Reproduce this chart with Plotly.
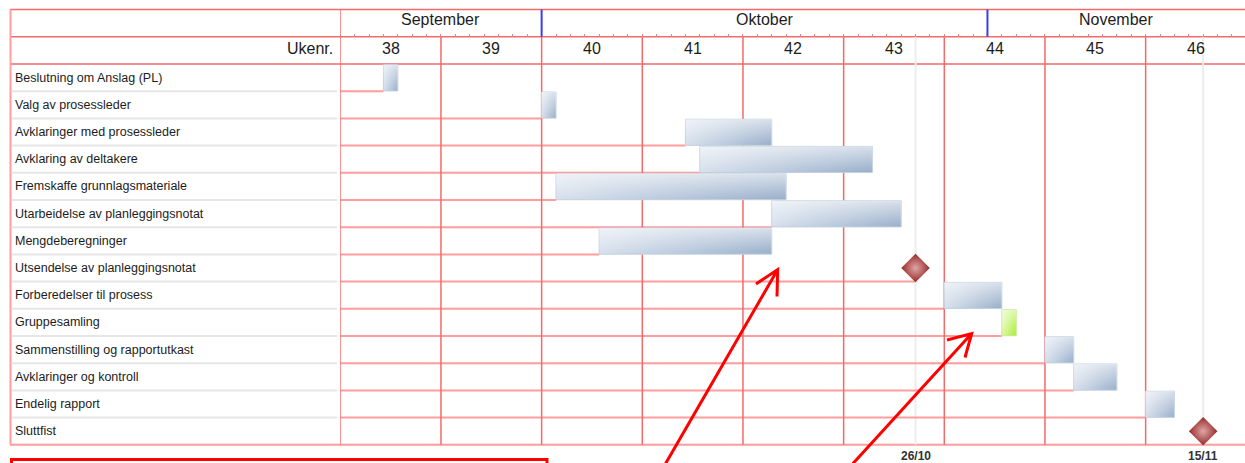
import plotly.graph_objects as go

W, H = 1245, 463

# ---- schedule data -------------------------------------------------------
tasks = [
    "Beslutning om Anslag (PL)",
    "Valg av prosessleder",
    "Avklaringer med prosessleder",
    "Avklaring av deltakere",
    "Fremskaffe grunnlagsmateriale",
    "Utarbeidelse av planleggingsnotat",
    "Mengdeberegninger",
    "Utsendelse av planleggingsnotat",
    "Forberedelser til prosess",
    "Gruppesamling",
    "Sammenstilling og rapportutkast",
    "Avklaringer og kontroll",
    "Endelig rapport",
    "Sluttfist",
]
# day offsets counted from the first day of week 38
start_day = [3, 14, 24, 25, 15, 30, 18, 40, 42, 46, 49, 51, 56, 60]
end_day = [4, 15, 30, 37, 31, 39, 30, 40, 46, 47, 51, 54, 58, 60]
task_type = ["task", "task", "task", "task", "task", "task", "task",
             "milestone", "task", "meeting", "task", "task", "task", "milestone"]

week_numbers = [38, 39, 40, 41, 42, 43, 44, 45, 46]
week_start_day = [0, 7, 14, 21, 28, 35, 42, 49, 56]

months = ["September", "Oktober", "November"]
month_start_day = [0, 14, 45]

milestone_labels = ["26/10", "15/11"]
milestone_label_day = [40, 60]

# ---- layout geometry -----------------------------------------------------
DAY0_PX = 340.3          # left edge of the time scale
PX_PER_DAY = 14.381
X_MAX = (W - DAY0_PX) / PX_PER_DAY
ROW_TOP_PX = 64.0        # first task row
ROW_H = 27.2
Y_BOTTOM = (H - ROW_TOP_PX) / ROW_H
Y_TOP = -ROW_TOP_PX / ROW_H
N = len(tasks)
month_end_day = month_start_day[1:] + [X_MAX]

RED = "#f26a6a"
RED_LIGHT = "#ff9d9d"
FONT = "Liberation Sans, Arial, sans-serif"


def pxx(x):
    return x / W


def pxy(y):
    return 1 - y / H


shapes = []


def hline(y, x0, x1, color, width, xref="x", layer="below"):
    shapes.append(dict(type="line", xref=xref, yref="y", x0=x0, x1=x1, y0=y, y1=y,
                       line=dict(color=color, width=width), layer=layer))


def vline(x, y0, y1, color, width, xref="x", layer="below"):
    shapes.append(dict(type="line", xref=xref, yref="y", x0=x, x1=x, y0=y0, y1=y1,
                       line=dict(color=color, width=width), layer=layer))


# milestone guide lines
for d in milestone_label_day:
    vline(d, -1, N, "#ededed", 2)

# faint separators in the label column
for i in range(1, N):
    hline(i, pxx(12), pxx(337), "#e6e6e6", 2, xref="paper")

# leader lines from the table edge to each task start
for i in range(N - 1):
    hline(i + 1, 0, start_day[i], RED_LIGHT, 2)

# week dividers
for d in week_start_day[1:]:
    vline(d, -1, N, RED, 1.5)

# header and frame lines
for y in (-2, -1, 0):
    hline(y, pxx(10), 1, RED, 1.5, xref="paper")
hline(N, pxx(10), 1, RED_LIGHT, 2, xref="paper")
vline(pxx(10.5), -2, N, RED_LIGHT, 2, xref="paper")
vline(0, -2, N, RED, 1.5)

# month boundaries
for d in month_start_day[1:]:
    vline(d, -2, -1, "#3c3cf0", 2, layer="above")

# callout box and arrows
shapes.append(dict(type="rect", xref="paper", yref="paper",
                   x0=pxx(11.5), x1=pxx(547), y0=pxy(459.5), y1=pxy(500),
                   line=dict(color="#ff0000", width=3)))
arrows = [
    ((659, 475), (777.7, 269.5), (756, 284), (777, 296.5)),
    ((842.5, 475), (971.7, 333.5), (947, 340), (965, 357.5)),
]
for tail, tip, a1, a2 in arrows:
    path = (f"M {pxx(tail[0])},{pxy(tail[1])} L {pxx(tip[0])},{pxy(tip[1])} "
            f"M {pxx(a1[0])},{pxy(a1[1])} L {pxx(tip[0])},{pxy(tip[1])} "
            f"L {pxx(a2[0])},{pxy(a2[1])}")
    shapes.append(dict(type="path", xref="paper", yref="paper", path=path,
                       line=dict(color="#ff0000", width=3)))

# ---- marks ---------------------------------------------------------------
fig = go.Figure()

for i, (s, e, kind) in enumerate(zip(start_day, end_day, task_type)):
    if kind == "milestone":
        fig.add_trace(go.Scatter(
            x=[s], y=[i + 0.5], mode="markers", hoverinfo="skip", showlegend=False,
            marker=dict(symbol="diamond", size=22, color="#972a2a",
                        gradient=dict(type="radial", color="#dfa6a6"),
                        line=dict(width=0)),
        ))
        continue
    if kind == "meeting":
        c0, c1, edge = "#dcf9a6", "#a8ec2a", "#c6e896"
    else:
        c0, c1, edge = "#d6e0ec", "#98aeca", "#c2cfdd"
    y0, y1 = i + 0.03, i + 0.99
    xs = [s, e, e, s, s]
    ys = [y0, y0, y1, y1, y0]
    fig.add_trace(go.Scatter(
        x=xs, y=ys, mode="lines", fill="toself", hoverinfo="skip", showlegend=False,
        line=dict(color=edge, width=1),
        fillgradient=dict(type="horizontal", colorscale=[[0, c0], [1, c1]]),
    ))
    fig.add_trace(go.Scatter(
        x=xs, y=ys, mode="lines", fill="toself", hoverinfo="skip", showlegend=False,
        line=dict(width=0),
        fillgradient=dict(type="vertical",
                          colorscale=[[0, "rgba(255,255,255,0)"],
                                      [1, "rgba(255,255,255,0.62)"]]),
    ))

# ---- text ----------------------------------------------------------------
annotations = []
for i, name in enumerate(tasks):
    annotations.append(dict(xref="paper", yref="y", x=pxx(13), y=i + 0.5,
                            text=name, showarrow=False, xanchor="left",
                            font=dict(size=12.5, color="#1c1c1c", family=FONT)))
for wk, d in zip(week_numbers, week_start_day):
    annotations.append(dict(xref="x", yref="y", x=d + 3.5, y=-0.58, text=str(wk),
                            showarrow=False, font=dict(size=16, color="#1c1c1c", family=FONT)))
for name, a, b in zip(months, month_start_day, month_end_day):
    annotations.append(dict(xref="x", yref="y", x=(a + b) / 2, y=-1.62, text=name,
                            showarrow=False, font=dict(size=16, color="#1c1c1c", family=FONT)))
annotations.append(dict(xref="paper", yref="y", x=pxx(335), y=-0.58, text="Ukenr.",
                        showarrow=False, xanchor="right",
                        font=dict(size=16, color="#1c1c1c", family=FONT)))
for lbl, d in zip(milestone_labels, milestone_label_day):
    annotations.append(dict(xref="x", yref="paper", x=d, y=pxy(455.5), text=f"<b>{lbl}</b>",
                            showarrow=False, yanchor="middle",
                            font=dict(size=12, color="#333333", family=FONT)))

fig.update_layout(
    width=W, height=H,
    margin=dict(l=0, r=0, t=0, b=0),
    paper_bgcolor="white", plot_bgcolor="white",
    showlegend=False,
    shapes=shapes,
    annotations=annotations,
    xaxis=dict(domain=[DAY0_PX / W, 1], range=[0, X_MAX], side="top",
               anchor="free", position=pxy(ROW_TOP_PX - ROW_H),
               ticks="outside", ticklen=3, tickwidth=1, tickcolor="#e88080",
               tick0=0, dtick=1, showticklabels=False,
               showgrid=False, zeroline=False, showline=False, fixedrange=True),
    yaxis=dict(domain=[0, 1], range=[Y_BOTTOM, Y_TOP], showgrid=False,
               zeroline=False, showticklabels=False, showline=False, fixedrange=True),
)

fig.write_html("out.html", config={"displayModeBar": False})
